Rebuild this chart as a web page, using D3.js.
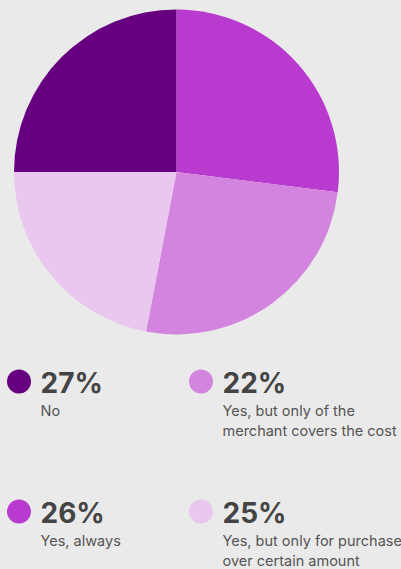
<!DOCTYPE html>
<html>
<head>
<meta charset="utf-8">
<script src="https://cdn.jsdelivr.net/npm/d3@7"></script>
<style>
  html, body { margin: 0; padding: 0; background: #eaeaea; overflow: hidden; }
  svg { display: block; }
</style>
</head>
<body>
<svg id="chart" width="401" height="569"></svg>
<script>
// Data
const categories = ["No", "Yes, always", "Yes, but only of the merchant covers the cost", "Yes, but only for purchase over certain amount"];
const labelLines = [["No"], ["Yes, always"], ["Yes, but only of the", "merchant covers the cost"], ["Yes, but only for purchase", "over certain amount"]];
const percents = [27, 26, 22, 25];
const legendColors = ["#660080", "#b83ace", "#d384df", "#eac7ee"];
// slice colours as drawn in the pie (clockwise from 12 o'clock)
const pieColors = ["#b83ace", "#d384df", "#eac7ee", "#660080"];

const svg = d3.select("#chart");
const cx = 176.5, cy = 172, r = 162.5;

const pie = d3.pie().sort(null).value(d => d)(percents);
const arc = d3.arc().innerRadius(0).outerRadius(r);

svg.append("g").attr("transform", `translate(${cx},${cy})`)
  .selectAll("path").data(pie).join("path")
  .attr("d", arc)
  .attr("fill", (d, i) => pieColors[i]);

// Legend grid: order No, merchant / always, purchase
const order = [0, 2, 1, 3];
const colX = [19, 201];
const rowY = [381.5, 511.5];
const leg = svg.append("g").attr("font-family", "Inter, Roboto, sans-serif");
order.forEach((idx, k) => {
  const col = k % 2, row = Math.floor(k / 2);
  const g = leg.append("g").attr("transform", `translate(${colX[col]},${rowY[row]})`);
  g.append("circle").attr("r", 12).attr("fill", legendColors[idx]);
  g.append("text").attr("x", 21.5).attr("y", 11)
    .attr("font-size", 28).attr("font-weight", 700).attr("fill", "#444")
    .text(percents[idx] + "%");
  labelLines[idx].forEach((ln, j) => {
    g.append("text").attr("x", 21.5).attr("y", 34.5 + j * 20)
      .attr("font-size", 14.5).attr("fill", "#555")
      .text(ln);
  });
});
</script>
</body>
</html>
